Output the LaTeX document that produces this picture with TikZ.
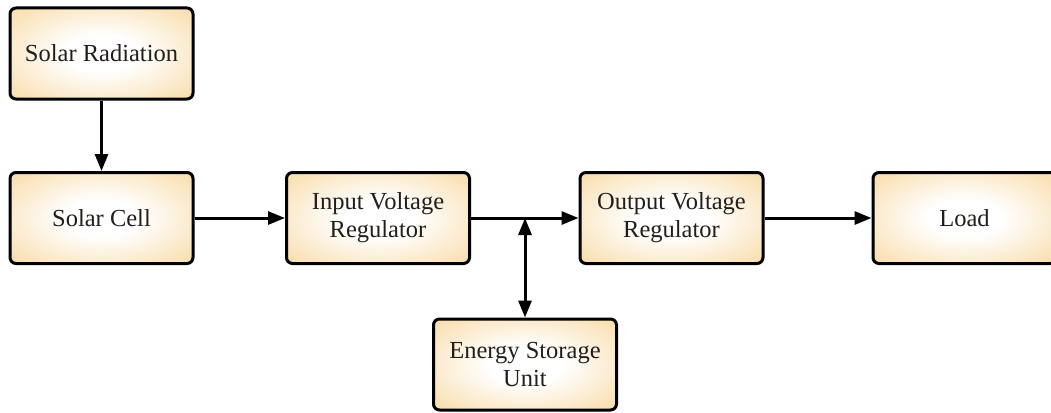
\documentclass[tikz,border=0pt]{standalone}
\usepackage{fontspec}
\setmainfont{Liberation Serif}
\usetikzlibrary{arrows.meta,shapes.misc}
\definecolor{boxorange}{RGB}{245,200,120}
\definecolor{txt}{RGB}{35,30,28}
\pgfdeclareradialshading{boxshade}{\pgfpoint{0bp}{0bp}}{color(0bp)=(white); color(10bp)=(white); color(50bp)=(boxorange); color(100bp)=(boxorange)}
\tikzset{
  blk/.style={draw=black, line width=3pt, rounded corners=6pt, shading=boxshade,
    minimum width=183pt, minimum height=91pt, inner sep=0pt, align=center,
    text=txt, font=\fontsize{24.5}{28}\selectfont},
  conn/.style={line width=3pt, -{Triangle[length=17pt,width=13pt]}},
  dconn/.style={line width=3pt, {Triangle[length=17pt,width=13pt]}-{Triangle[length=17pt,width=13pt]}}
}
\begin{document}
\begin{tikzpicture}[x=1pt,y=-1pt]
\useasboundingbox (0,0) rectangle (1051,412);
\clip (0,0) rectangle (1051,412);
\node[blk] (sr) at (101.5,53.5) {Solar Radiation};
\node[blk] (sc) at (101.5,218) {Solar Cell};
\node[blk] (ivr) at (378,218) {Input Voltage\\Regulator};
\node[blk] (ovr) at (671.5,218) {Output Voltage\\Regulator};
\node[blk] (load) at (964.5,218) {Load};
\node[blk] (esu) at (525,364.5) {Energy Storage\\Unit};
\coordinate (j) at (esu.north |- ivr.east);
\draw[conn] (sr) -- (sc);
\draw[conn] (sc) -- (ivr);
\draw[conn] (ivr) -- (ovr);
\draw[conn] (ovr) -- (load);
\draw[dconn] (j) -- (esu);
\end{tikzpicture}
\end{document}
